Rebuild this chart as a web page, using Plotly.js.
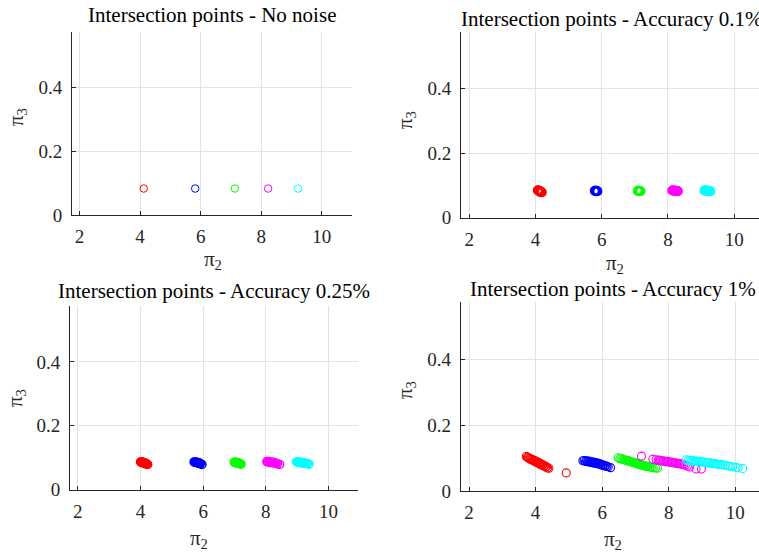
<!DOCTYPE html>
<html>
<head>
<meta charset="utf-8">
<script src="https://cdn.plot.ly/plotly-3.0.1.min.js"></script>
<style>html,body{margin:0;padding:0;background:#fff;}#chart{width:759px;height:553px;}</style>
</head>
<body>
<div id="chart"></div>
<script>
// ---- data ----
const panelTitles = ["Intersection points - No noise", "Intersection points - Accuracy 0.1%",
                     "Intersection points - Accuracy 0.25%", "Intersection points - Accuracy 1%"];
const seriesNames = ["Point 1", "Point 2", "Point 3", "Point 4", "Point 5"];
const xTicks = [2, 4, 6, 8, 10];
const yTicks = [0, 0.2, 0.4];
const yTickLabels = ["0", "0.2", "0.4"];

// No noise
const nn_x = [[4.12], [5.82], [7.13], [8.23], [9.22]];
const nn_y = [[0.083], [0.083], [0.083], [0.083], [0.083]];

// Accuracy 0.1%
const a01_x = [
  [4.07, 4.09, 4.11, 4.12, 4.14, 4.15, 4.17, 4.19],
  [5.79, 5.81, 5.83, 5.85, 5.87],
  [7.09, 7.11, 7.13, 7.15, 7.17],
  [8.13, 8.16, 8.19, 8.22, 8.25, 8.28, 8.30],
  [9.10, 9.13, 9.16, 9.19, 9.22, 9.25, 9.28]
];
const a01_y = [
  [0.085, 0.084, 0.082, 0.083, 0.080, 0.081, 0.079, 0.079],
  [0.083, 0.084, 0.082, 0.083, 0.082],
  [0.083, 0.084, 0.082, 0.083, 0.082],
  [0.084, 0.085, 0.083, 0.084, 0.082, 0.083, 0.082],
  [0.084, 0.085, 0.083, 0.084, 0.082, 0.083, 0.082]
];

// Accuracy 0.25%
const a025_x = [
  [4.00, 4.02, 4.04, 4.05, 4.07, 4.08, 4.10, 4.11, 4.13, 4.14, 4.16, 4.18, 4.20, 4.23],
  [5.71, 5.73, 5.75, 5.77, 5.79, 5.81, 5.83, 5.85, 5.87, 5.89, 5.91, 5.96],
  [6.99, 7.01, 7.03, 7.05, 7.07, 7.09, 7.11, 7.13, 7.15, 7.18, 7.21],
  [8.03, 8.06, 8.09, 8.12, 8.15, 8.18, 8.21, 8.24, 8.27, 8.30, 8.33, 8.37, 8.44],
  [8.98, 9.01, 9.04, 9.07, 9.10, 9.13, 9.16, 9.19, 9.22, 9.25, 9.29, 9.33, 9.38]
];
const a025_y = [
  [0.087, 0.086, 0.087, 0.085, 0.086, 0.084, 0.085, 0.083, 0.084, 0.082, 0.083, 0.081, 0.080, 0.079],
  [0.087, 0.086, 0.087, 0.085, 0.086, 0.084, 0.085, 0.083, 0.084, 0.082, 0.081, 0.079],
  [0.086, 0.085, 0.086, 0.084, 0.085, 0.083, 0.084, 0.082, 0.083, 0.081, 0.080],
  [0.088, 0.087, 0.088, 0.086, 0.087, 0.085, 0.086, 0.084, 0.085, 0.083, 0.082, 0.081, 0.079],
  [0.087, 0.086, 0.087, 0.085, 0.086, 0.084, 0.085, 0.083, 0.084, 0.082, 0.082, 0.081, 0.080]
];

// Accuracy 1%
const a1_x = [
  [3.72, 3.75, 3.78, 3.80, 3.83, 3.85, 3.88, 3.90, 3.92, 3.95, 3.97, 4.00, 4.02, 4.04, 4.06,
   4.08, 4.10, 4.12, 4.14, 4.16, 4.18, 4.20, 4.22, 4.25, 4.27, 4.30, 4.33, 4.36, 4.40, 4.92],
  [5.42, 5.46, 5.50, 5.53, 5.56, 5.58, 5.61, 5.63, 5.66, 5.68, 5.70, 5.72, 5.75, 5.77, 5.80,
   5.82, 5.85, 5.87, 5.90, 5.92, 5.95, 5.98, 6.01, 6.04, 6.07, 6.10, 6.14, 6.18, 6.25],
  [6.48, 6.53, 6.58, 6.62, 6.66, 6.70, 6.74, 6.78, 6.82, 6.86, 6.90, 6.93, 6.96, 7.00, 7.03,
   7.06, 7.09, 7.12, 7.15, 7.18, 7.22, 7.26, 7.30, 7.34, 7.38, 7.43, 7.48, 7.53, 7.60, 7.66],
  [7.18, 7.52, 7.62, 7.68, 7.72, 7.76, 7.80, 7.84, 7.88, 7.92, 7.96, 8.00, 8.04, 8.08, 8.12,
   8.16, 8.20, 8.24, 8.28, 8.32, 8.36, 8.40, 8.45, 8.50, 8.56, 8.63, 8.82, 8.98],
  [8.53, 8.58, 8.63, 8.68, 8.73, 8.78, 8.83, 8.88, 8.93, 8.98, 9.03, 9.08, 9.13, 9.18, 9.23,
   9.28, 9.33, 9.38, 9.43, 9.48, 9.53, 9.58, 9.63, 9.70, 9.78, 9.85, 9.92, 10.02, 10.08, 10.22]
];
const a1_y = [
  [0.105, 0.103, 0.102, 0.099, 0.099, 0.096, 0.097, 0.094, 0.095, 0.091, 0.093, 0.089, 0.090, 0.086, 0.088,
   0.085, 0.086, 0.082, 0.084, 0.080, 0.081, 0.078, 0.080, 0.076, 0.077, 0.073, 0.074, 0.070, 0.069, 0.055],
  [0.092, 0.093, 0.090, 0.092, 0.089, 0.091, 0.088, 0.090, 0.087, 0.089, 0.086, 0.088, 0.085, 0.087, 0.084,
   0.086, 0.083, 0.085, 0.082, 0.083, 0.080, 0.081, 0.078, 0.079, 0.076, 0.077, 0.075, 0.074, 0.071],
  [0.101, 0.098, 0.099, 0.096, 0.095, 0.094, 0.092, 0.093, 0.090, 0.089, 0.088, 0.086, 0.087, 0.085, 0.083,
   0.084, 0.082, 0.080, 0.081, 0.079, 0.078, 0.077, 0.075, 0.076, 0.074, 0.073, 0.072, 0.071, 0.070, 0.069],
  [0.106, 0.097, 0.095, 0.093, 0.094, 0.092, 0.091, 0.092, 0.090, 0.089, 0.090, 0.088, 0.087, 0.088, 0.086,
   0.085, 0.086, 0.084, 0.083, 0.084, 0.082, 0.081, 0.080, 0.078, 0.076, 0.073, 0.067, 0.067],
  [0.095, 0.092, 0.094, 0.091, 0.093, 0.090, 0.091, 0.089, 0.090, 0.088, 0.087, 0.088, 0.086, 0.085, 0.086,
   0.084, 0.083, 0.084, 0.082, 0.081, 0.080, 0.081, 0.079, 0.078, 0.076, 0.075, 0.074, 0.072, 0.070, 0.068]
];

// ---- styling / layout ----
const colors = ["#ff0000", "#0000ff", "#00ff00", "#ff00ff", "#00ffff"];
const W = 759, H = 553;
const FONT = "'Liberation Serif', 'DejaVu Serif', serif";
const TXT = "#262626";

// pixel boxes of the four axes and x ranges
const boxes = [
  {l: 72,  r: 352, t: 31.7, b: 215,   xr: [1.75, 11.0]},
  {l: 461, r: 759, t: 32,   b: 217.7, xr: [1.75, 10.75]},
  {l: 70,  r: 358.3, t: 306, b: 489.7, xr: [1.75, 10.95]},
  {l: 460.7, r: 759, t: 302, b: 491,  xr: [1.75, 10.71]}
];
const yRange = [0, 0.575];

const panels = [[nn_x, nn_y, 7.5, 1.0], [a01_x, a01_y, 8, 2.0], [a025_x, a025_y, 8, 1.5], [a1_x, a1_y, 8, 1.1]];

const traces = [];
panels.forEach((p, i) => {
  const ax = i === 0 ? "" : String(i + 1);
  for (let s = 0; s < 5; s++) {
    traces.push({
      type: "scatter", mode: "markers", name: seriesNames[s],
      x: p[0][s], y: p[1][s],
      xaxis: "x" + ax, yaxis: "y" + ax,
      marker: {symbol: "circle-open", size: p[2], color: colors[s], line: {width: p[3], color: colors[s]}},
      showlegend: false, hoverinfo: "x+y"
    });
  }
});

const layout = {
  width: W, height: H,
  margin: {l: 0, r: 0, t: 0, b: 0},
  paper_bgcolor: "#fff", plot_bgcolor: "#fff",
  font: {family: FONT, color: TXT, size: 19},
  showlegend: false,
  annotations: []
};

const titlePos = [[212, 15], [612, 19], [214, 291], [613, 289]];
const xlabPos = [[213, 260], [615, 264], [199, 539], [613, 540]];
const ylabPos = [[17, 117], [406, 120], [16, 398], [406, 390]];

boxes.forEach((b, i) => {
  const ax = i === 0 ? "" : String(i + 1);
  const common = {
    showline: true, linecolor: TXT, linewidth: 1,
    showgrid: true, gridcolor: "#e3e3e3", gridwidth: 1,
    zeroline: false, ticks: "inside", ticklen: 4, tickcolor: TXT,
    tickfont: {family: FONT, size: 19, color: TXT},
    fixedrange: true
  };
  layout["xaxis" + ax] = Object.assign({}, common, {
    domain: [b.l / W, Math.min(1, b.r / W)], range: b.xr,
    anchor: "y" + ax, tickmode: "array", tickvals: xTicks, ticktext: xTicks.map(String),
    ticklabelstandoff: 4
  });
  layout["yaxis" + ax] = Object.assign({}, common, {
    domain: [1 - b.b / H, 1 - b.t / H], range: yRange,
    anchor: "x" + ax, tickmode: "array", tickvals: yTicks, ticktext: yTickLabels,
    ticklabelstandoff: 5
  });
  layout.annotations.push({
    text: panelTitles[i], xref: "paper", yref: "paper",
    x: titlePos[i][0] / W, y: 1 - titlePos[i][1] / H, xanchor: "center", yanchor: "middle",
    showarrow: false, font: {family: FONT, size: 21, color: "#000"}
  });
  layout.annotations.push({
    text: "π<sub>2</sub>", xref: "paper", yref: "paper",
    x: xlabPos[i][0] / W, y: 1 - xlabPos[i][1] / H, xanchor: "center", yanchor: "middle",
    showarrow: false, font: {family: FONT, size: 21, color: TXT}
  });
  layout.annotations.push({
    text: "π<sub>3</sub>", xref: "paper", yref: "paper", textangle: -90,
    x: ylabPos[i][0] / W, y: 1 - ylabPos[i][1] / H, xanchor: "center", yanchor: "middle",
    showarrow: false, font: {family: FONT, size: 21, color: TXT}
  });
});

Plotly.newPlot("chart", traces, layout, {displayModeBar: false, staticPlot: true});
</script>
</body>
</html>
